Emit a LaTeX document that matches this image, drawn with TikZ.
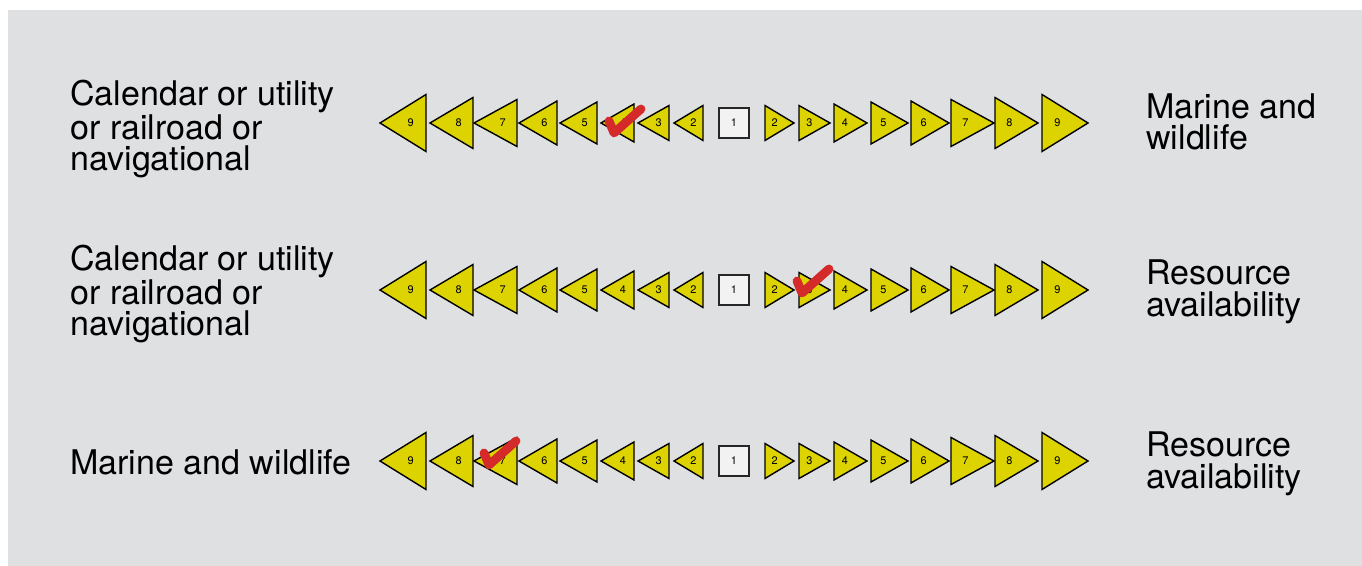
\documentclass[tikz,border=0pt]{standalone}
\usepackage{fontspec}
\setmainfont{TeX Gyre Heros}
\usepackage{xcolor}
\usetikzlibrary{positioning}
\definecolor{panel}{HTML}{DFE0E2}
\definecolor{flag}{HTML}{DDD300}
\definecolor{tickred}{HTML}{D42A2A}

\tikzset{
  tri/.style={draw=black, line width=0.7pt, fill=flag, line join=miter},
  num/.style={font=\fontsize{5.5}{6}\selectfont, inner sep=0pt},
  midsq/.style={draw=black!85, line width=0.6pt, fill=black!5, minimum size=15pt,
                inner sep=0pt, font=\fontsize{5.5}{6}\selectfont},
  lbl/.style={anchor=west, align=left, inner sep=0pt,
              font=\fontsize{17}{15.75}\selectfont},
  tick/.style={draw=tickred, line width=4.4pt, line cap=round, line join=round}
}

\begin{document}
\begin{tikzpicture}[x=0.5pt, y=-0.5pt]
  \useasboundingbox (0,0) rectangle (1362,566);
  % Panel
  \fill[panel] (8,10) rectangle (1362,566);

  % Scales
  \foreach \row/\yy in {1/123, 2/290, 3/461} {
    \node[midsq] (m\row) at (734,\yy) {1};
    \foreach \n/\b/\t/\h in {2/31/60/35, 3/65/96/35, 4/100/133/38, 5/137/174/42,
                             6/177/215/44, 7/217/260/47, 8/261/304/51, 9/308/354/57} {
      \draw[tri] (734-\b,\yy-\h/2) -- (734-\t,\yy) -- (734-\b,\yy+\h/2) -- cycle;
      \node[num] (l\row-\n) at ({734-(\t+2*\b)/3},\yy) {\n};
      \draw[tri] (734+\b,\yy-\h/2) -- (734+\t,\yy) -- (734+\b,\yy+\h/2) -- cycle;
      \node[num] (r\row-\n) at ({734+(\t+2*\b)/3},\yy) {\n};
    }
  }

  % Left criteria
  \node[lbl] (left1) at (70,129) {Calendar or utility\\or railroad or\\navigational};
  \node[lbl] (left2) at (70,294) {Calendar or utility\\or railroad or\\navigational};
  \node[lbl] (left3) at (70,462) {Marine and wildlife};

  % Right criteria
  \node[lbl] (right1) at (1146,122) {Marine and\\wildlife};
  \node[lbl] (right2) at (1146,292) {Resource\\availability};
  \node[lbl] (right3) at (1146,464) {Resource\\availability};

  % Judgements
  \coordinate (pick1) at (614,133);
  \coordinate (pick2) at (802,293);
  \coordinate (pick3) at (489,465);
  \foreach \k in {1,2,3}
    \draw[tick] ([shift={(-5,-12)}]pick\k) -- (pick\k) -- ([shift={(27,-24)}]pick\k);
\end{tikzpicture}
\end{document}
